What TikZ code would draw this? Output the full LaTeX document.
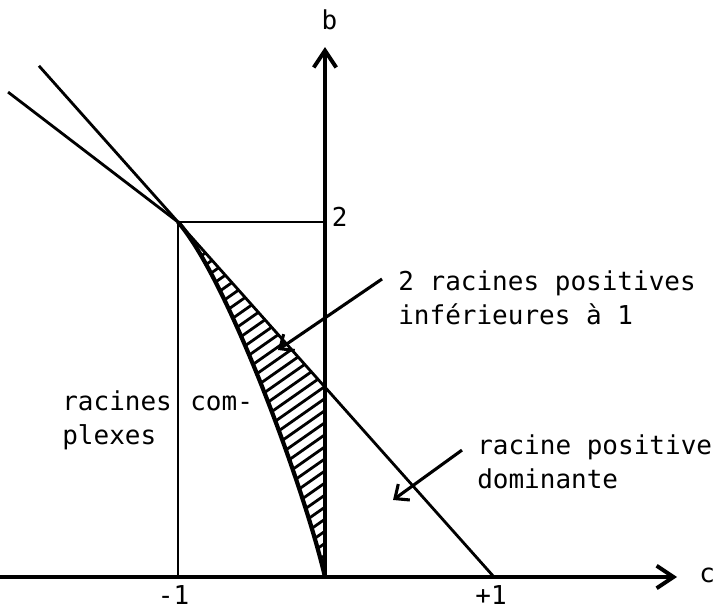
\documentclass[tikz,border=0pt]{standalone}
\usepackage{fontspec}
\newfontfamily\plotfont{DejaVu Sans Mono}
\usepackage{tikz}
\usetikzlibrary{arrows.meta,positioning}

\begin{document}
\begin{tikzpicture}[
  x=3.675cm, y=4.4375cm,
  >={Straight Barb[length=12pt,width=16pt]},
  axis/.style={->, line width=2.8pt},
  trait/.style={line width=2pt},
  courbe/.style={line width=3pt},
  hatch/.style={line width=2pt},
  lbl/.style={font=\plotfont\fontsize{18.5}{24.5}\selectfont, inner sep=0pt, align=left},
  fleche/.style={line width=2.2pt, -{Straight Barb[length=8pt,width=14pt]}},
]
\useasboundingbox (-2.211,-0.180) rectangle (2.667,3.251);

% Axes
\coordinate (O)    at (0,0);
\coordinate (cmin) at (-2.211,0);
\coordinate (cmax) at (2.395,0);
\coordinate (bmax) at (0,2.986);
\draw[axis] (cmin) -- (cmax);
\draw[axis] (O) -- (bmax);
\node[lbl] (clab) at (2.6,0.01) {c};
\node[lbl] (blab) at (0.03,3.138) {b};

% Key points
\coordinate (A)  at (-1,2);
\coordinate (b2) at (0,2);
\coordinate (m1) at (-1,0);
\coordinate (P)  at (0,1.072);
\coordinate (Q)  at (1.15,0);
\coordinate (t1) at (-2.156,2.732);
\coordinate (t2) at (-1.946,2.880);

% Lines
\draw[trait] (t1) -- (A);
\draw[trait] (t2) -- (Q);
\draw[trait] (m1) -- (A) -- (b2);

% Hatched zone
\begin{scope}
  \clip (A) -- (P) -- (O) .. controls (-0.136,0.49) and (-0.66,1.679) .. (A);
  \foreach \k in {0,...,40}
    \draw[hatch] (-1.1,-0.72+\k*0.068) -- ++(1.3,0.754);
\end{scope}
\draw[courbe] (A) .. controls (-0.66,1.679) and (-0.136,0.49) .. (O);
\draw[trait] (P) -- (O);

% Tick labels
\node[lbl, anchor=north] (mun)  at (-1.03,-0.045) {-1};
\node[lbl, anchor=north] (pun)  at (1.13,-0.045) {+1};
\node[lbl, anchor=west]  (deux) at (0.045,2.03) {2};

% Region labels
\node[lbl, anchor=west] (cplx) at (-1.789,0.882) {racines\\plexes};
\node[lbl, anchor=west] (com)  at (-0.918,0.980) {com-};
\node[lbl, anchor=west] (inf)  at (0.497,1.574) {2 racines positives\\inférieures à 1};
\node[lbl, anchor=west] (dom)  at (1.034,0.648) {racine positive\\dominante};

% Pointers
\coordinate (f1s) at (0.388,1.679);
\coordinate (f1e) at (-0.320,1.279);
\coordinate (f2s) at (0.932,0.715);
\coordinate (f2e) at (0.463,0.434);
\draw[fleche] (f1s) -- (f1e);
\draw[fleche] (f2s) -- (f2e);

\end{tikzpicture}
\end{document}
